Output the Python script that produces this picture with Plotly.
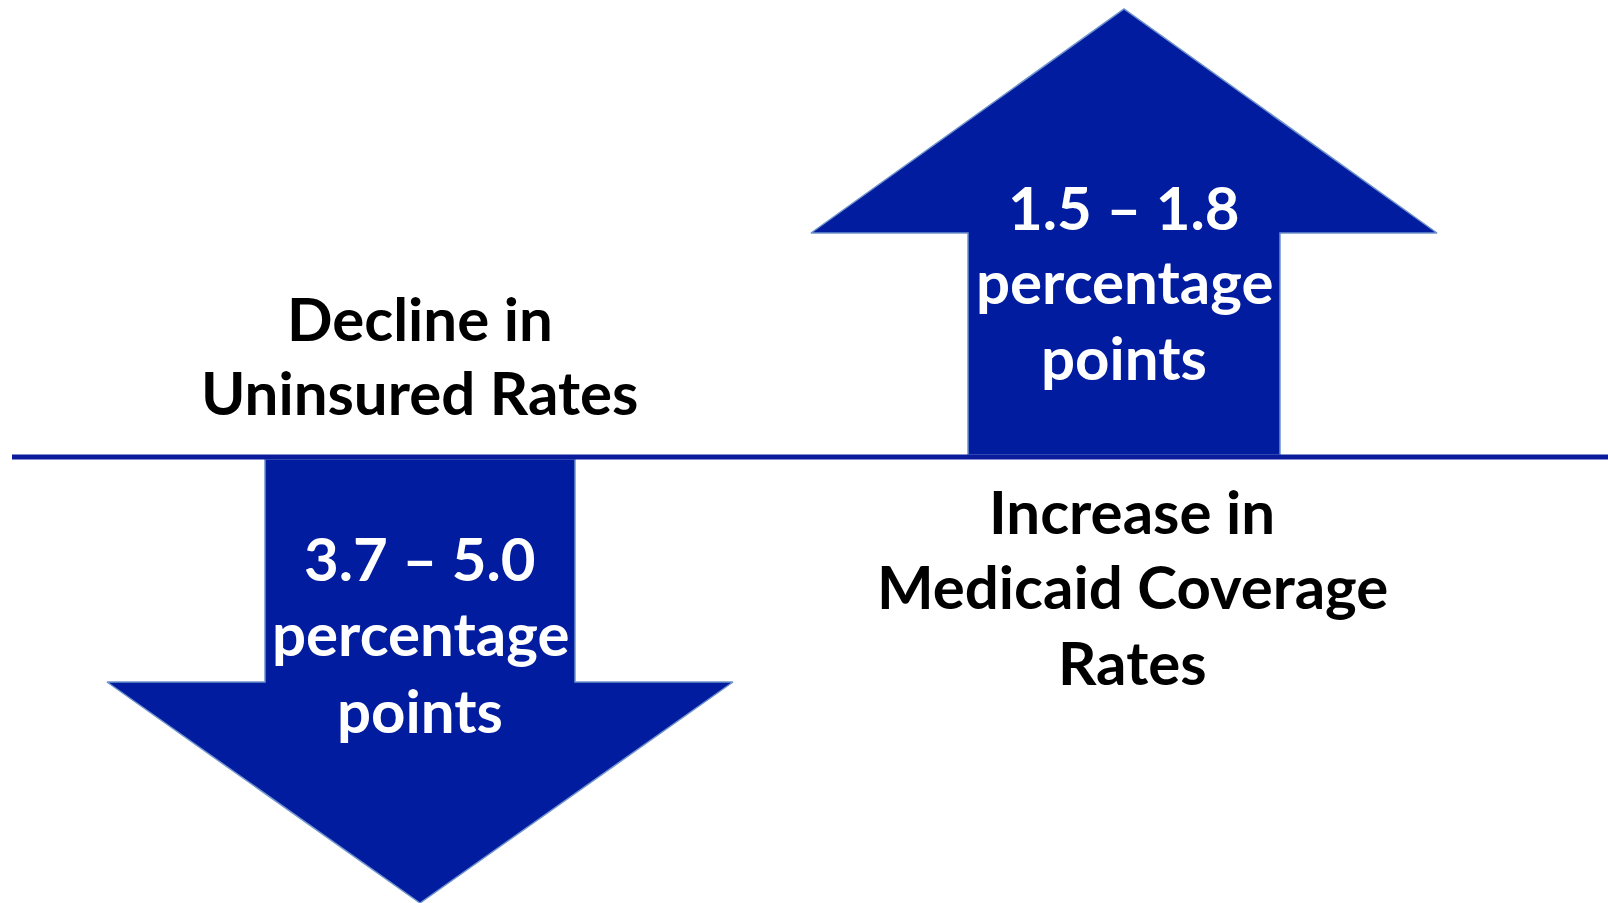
import plotly.graph_objects as go

# ---- data ----
ranges_low = [3.7, 1.5]
ranges_high = [5.0, 1.8]
directions = ["down", "up"]
arrow_units = ["percentage", "points"]
captions = [["Decline in", "Uninsured Rates"],
            ["Increase in", "Medicaid Coverage", "Rates"]]

# ---- layout geometry (pixel-like data coords) ----
W, H = 1608, 903
base_y = 457
fill = "#021C9F"
edge = "#6F93CC"
arrow_geom = {
    "down": dict(cx=420, shaft_half=155, head_half=313, head_y=682, tip_y=903, start_y=459),
    "up": dict(cx=1124, shaft_half=156, head_half=313, head_y=233, tip_y=9, start_y=455),
}
label_y = {"down": [558, 633, 710], "up": [207, 281, 357]}
caption_pos = {"down": (420, [318, 392]), "up": (1132, [511, 586, 662])}

fig = go.Figure()
annotations = []
font_family = "Lato, 'Open Sans', sans-serif"
FS = 60

for lo, hi, d, cap in zip(ranges_low, ranges_high, directions, captions):
    g = arrow_geom[d]
    cx = g["cx"]
    xs = [cx - g["shaft_half"], cx - g["shaft_half"], cx - g["head_half"], cx,
          cx + g["head_half"], cx + g["shaft_half"], cx + g["shaft_half"], cx - g["shaft_half"]]
    ys = [g["start_y"], g["head_y"], g["head_y"], g["tip_y"], g["head_y"], g["head_y"],
          g["start_y"], g["start_y"]]
    fig.add_trace(go.Scatter(x=xs, y=ys, mode="lines", fill="toself", fillcolor=fill,
                             line=dict(color=edge, width=1.5), hoverinfo="skip",
                             showlegend=False))
    lines = [f"{lo:.1f} \u2013 {hi:.1f}"] + arrow_units
    for txt, yy in zip(lines, label_y[d]):
        annotations.append(dict(x=cx, y=yy, text=txt, showarrow=False, xanchor="center",
                                yanchor="middle",
                                font=dict(family=font_family, size=FS, color="white",
                                          weight="bold")))
    ccx, cys = caption_pos[d]
    for txt, yy in zip(cap, cys):
        annotations.append(dict(x=ccx, y=yy, text=txt, showarrow=False, xanchor="center",
                                yanchor="middle",
                                font=dict(family=font_family, size=FS, color="black",
                                          weight="bold")))

fig.add_shape(type="line", x0=12, x1=W, y0=base_y, y1=base_y,
              line=dict(color="#0A1C9C", width=5), layer="above")

fig.update_layout(
    width=W, height=H, margin=dict(l=0, r=0, t=0, b=0),
    paper_bgcolor="white", plot_bgcolor="white",
    xaxis=dict(range=[0, W], visible=False, fixedrange=True),
    yaxis=dict(range=[H, 0], visible=False, fixedrange=True),
    annotations=annotations, showlegend=False,
)

fig.write_html("out.html", config={"displayModeBar": False},
               post_script="document.body.style.margin='0';document.body.style.overflow='hidden';")
